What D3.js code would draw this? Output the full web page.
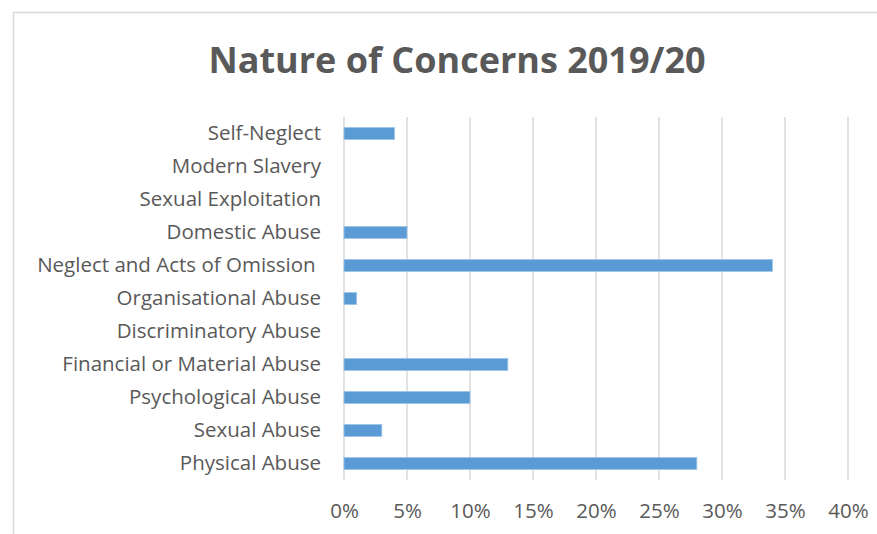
<!DOCTYPE html>
<html>
<head>
<meta charset="utf-8">
<script src="https://cdn.jsdelivr.net/npm/d3@7"></script>
<style>
  body { margin: 0; background: #fff; }
  text { font-family: "Open Sans", "Noto Sans", sans-serif; fill: #595959; }
</style>
</head>
<body>
<div id="grafico"></div>
<script>
// dados (de cima para baixo)
const categorias = [
  "Self-Neglect",
  "Modern Slavery",
  "Sexual Exploitation",
  "Domestic Abuse",
  "Neglect and Acts of Omission ",
  "Organisational Abuse",
  "Discriminatory Abuse",
  "Financial or Material Abuse",
  "Psychological Abuse",
  "Sexual Abuse",
  "Physical Abuse"
];
const valores = [0.04, 0, 0, 0.05, 0.34, 0.01, 0, 0.13, 0.10, 0.03, 0.28];
const ticks_x = [0, 0.05, 0.10, 0.15, 0.20, 0.25, 0.30, 0.35, 0.40];
const titulo = "Nature of Concerns 2019/20";

const largura = 877, altura = 534;
const margem = { superior: 117, inferior: 54, esquerda: 344, direita: 29 };
const tamanho_fonte = 20.5;

const svg = d3.select("#grafico").append("svg")
    .attr("width", largura)
    .attr("height", altura)
    .attr("viewBox", [0, 0, largura, altura]);

// moldura do gráfico (cortada à direita e em baixo)
svg.append("rect")
    .attr("x", 13.5).attr("y", 12.5)
    .attr("width", largura + 20).attr("height", altura + 20)
    .attr("fill", "none")
    .attr("stroke", "#d9d9d9")
    .attr("stroke-width", 1.5);

const escala_x = d3.scaleLinear([0, 0.40], [margem.esquerda, largura - margem.direita]);
const escala_y = d3.scaleBand(categorias, [margem.superior, altura - margem.inferior])
    .paddingInner(0.636)
    .paddingOuter(0.318);

// linhas de grade
svg.append("g")
    .attr("class", "grade")
  .selectAll("line")
  .data(ticks_x)
  .join("line")
    .attr("x1", d => escala_x(d))
    .attr("x2", d => escala_x(d))
    .attr("y1", margem.superior)
    .attr("y2", altura - margem.inferior)
    .attr("stroke", "#d9d9d9")
    .attr("stroke-width", 1.5);

// barras
svg.append("g")
    .attr("class", "barras")
  .selectAll("rect")
  .data(categorias)
  .join("rect")
    .attr("x", escala_x(0))
    .attr("y", c => escala_y(c))
    .attr("width", (c, i) => escala_x(valores[i]) - escala_x(0))
    .attr("height", escala_y.bandwidth())
    .attr("fill", "#5b9bd5")
    .attr("stroke", "#9dc3e6")
    .attr("stroke-width", 0.8)
    .attr("display", (c, i) => valores[i] > 0 ? null : "none");

// eixo x
svg.append("g")
    .attr("class", "eixo_x")
    .attr("transform", `translate(0,${altura - margem.inferior})`)
    .call(d3.axisBottom(escala_x).tickValues(ticks_x).tickFormat(d3.format(".0%")).tickSize(0).tickPadding(23))
    .call(g => g.select(".domain").remove())
    .call(g => g.selectAll("text").attr("font-size", tamanho_fonte).attr("fill", "#595959"));

// eixo y
svg.append("g")
    .attr("class", "eixo_y")
    .attr("transform", `translate(${margem.esquerda},0)`)
    .call(d3.axisLeft(escala_y).tickSize(0).tickPadding(23))
    .call(g => g.select(".domain").remove())
    .call(g => g.selectAll("text").attr("font-size", tamanho_fonte).attr("fill", "#595959")
        .style("white-space", "pre"));

// título
svg.append("text")
    .attr("x", 457)
    .attr("y", 73)
    .attr("text-anchor", "middle")
    .attr("font-size", 36)
    .attr("font-weight", "bold")
    .text(titulo);
</script>
</body>
</html>
